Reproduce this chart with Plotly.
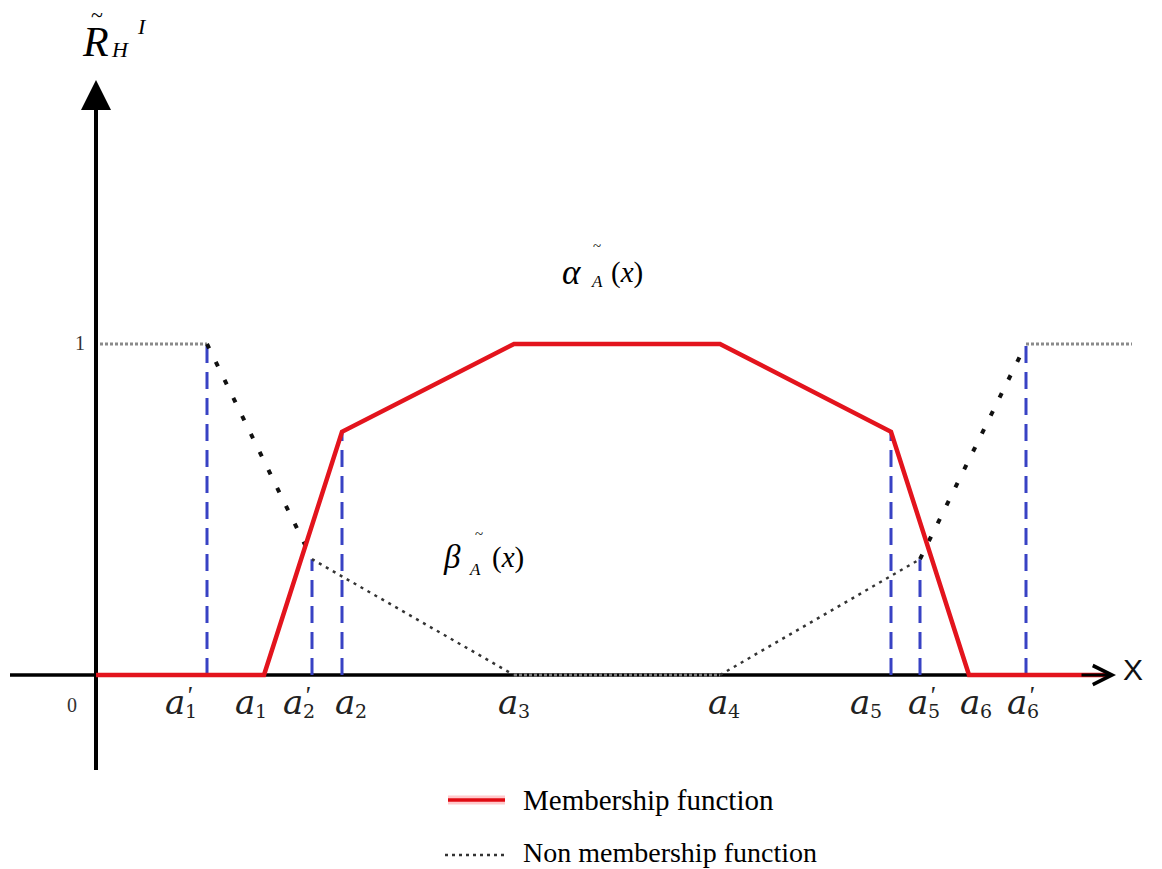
import plotly.graph_objects as go

W, H = 1162, 869

# ---------------- data (abstract units) ----------------
# membership function alpha_A(x): break points
mem_x = [0.0, 16.8, 24.6, 41.8, 62.4, 79.5, 87.3, 101.4]
mem_y = [0.0, 0.0, 0.735, 1.0, 1.0, 0.735, 0.0, 0.0]
# non-membership function beta_A(x): break points
non_x = [0.4, 11.1, 21.6, 41.8, 62.4, 82.4, 93.0, 103.6]
non_y = [1.0, 1.0, 0.35, 0.0, 0.0, 0.35, 1.0, 1.0]

# point labels on the x axis
label_names = ["a1'", "a1", "a2'", "a2", "a3", "a4", "a5", "a5'", "a6", "a6'"]
label_x = [11.1, 16.8, 21.6, 24.6, 41.8, 62.4, 79.5, 82.4, 87.3, 93.0]
label_sub = ["1", "1", "2", "2", "3", "4", "5", "5", "6", "6"]
label_prime = [True, False, True, False, False, False, False, True, False, True]

y_ticks = [0, 1]
legend_names = ["Membership function", "Non membership function"]

# ---------------- scale (pixel placement of the drawing) ----------------
X0_PX, PX_PER_X = 96, 10.0
Y0_PX, PX_PER_Y = 675, 331.0
x_range = [(0 - X0_PX) / PX_PER_X, (W - X0_PX) / PX_PER_X]
y_range = [(Y0_PX - H) / PX_PER_Y, Y0_PX / PX_PER_Y]


def P(xp, yp):
    """pixel -> paper coordinates"""
    return xp / W, 1 - yp / H


RED = "#e3141d"
BLUE = "#3842c4"
SERIF = "Liberation Serif"
MATH = "DejaVu Serif"

fig = go.Figure()

# blue dashed drop lines
drop_pts = [
    (non_x[1], non_y[1]), (non_x[2], non_y[2]), (mem_x[2], mem_y[2]),
    (mem_x[5], mem_y[5]), (non_x[5], non_y[5]), (non_x[6], non_y[6]),
]
dx, dy = [], []
for xv, yv in drop_pts:
    dx += [xv, xv, None]
    dy += [0, yv, None]
fig.add_trace(go.Scatter(x=dx, y=dy, mode="lines", showlegend=False, hoverinfo="skip",
                         line=dict(color=BLUE, width=3, dash="17px,9px")))

# non-membership: segments with different dot styles
seg_styles = [
    dict(color="#8a8a8a", width=3, dash="3px,2px"),   # flat top left
    dict(color="#111111", width=4, dash="5px,15px"),  # steep left
    dict(color="#333333", width=2.5, dash="3px,5px"),  # shallow left
    dict(color="#7a7a7a", width=3, dash="3px,2px"),   # baseline
    dict(color="#333333", width=2.5, dash="3px,5px"),  # shallow right
    dict(color="#111111", width=4, dash="5px,15px"),  # steep right
    dict(color="#8a8a8a", width=3, dash="3px,2px"),   # flat top right
]
for i, st in enumerate(seg_styles):
    fig.add_trace(go.Scatter(x=non_x[i:i + 2], y=non_y[i:i + 2], mode="lines",
                             showlegend=False, hoverinfo="skip", line=st))

# membership function
fig.add_trace(go.Scatter(x=mem_x, y=mem_y, mode="lines", showlegend=False,
                         hoverinfo="skip", line=dict(color=RED, width=4.5)))

shapes = [
    # x axis
    dict(type="line", xref="x", yref="y", x0=(10 - X0_PX) / PX_PER_X, x1=(1112 - X0_PX) / PX_PER_X,
         y0=0, y1=0, line=dict(color="black", width=3.5), layer="below"),
    # y axis
    dict(type="line", xref="x", yref="y", x0=0, x1=0, y0=(Y0_PX - 770) / PX_PER_Y,
         y1=(Y0_PX - 85) / PX_PER_Y, line=dict(color="black", width=4), layer="below"),
]
# legend samples
lx0, ly0 = P(448, 800)
lx1, _ = P(505, 800)
shapes.append(dict(type="line", xref="paper", yref="paper", x0=lx0, x1=lx1, y0=ly0, y1=ly0,
                   line=dict(color="#ffc9cc", width=9)))
shapes.append(dict(type="line", xref="paper", yref="paper", x0=lx0, x1=lx1, y0=ly0, y1=ly0,
                   line=dict(color="#e00a12", width=3.5)))
nx0, ny0 = P(445, 855)
nx1, _ = P(508, 855)
shapes.append(dict(type="line", xref="paper", yref="paper", x0=nx0, x1=nx1, y0=ny0, y1=ny0,
                   line=dict(color="#333333", width=2.5, dash="3px,4px")))

annotations = []
# axis arrows
annotations.append(dict(x=(1116 - X0_PX) / PX_PER_X, y=0, ax=(1080 - X0_PX) / PX_PER_X, ay=0,
                        xref="x", yref="y", axref="x", ayref="y", text="", showarrow=True,
                        arrowhead=5, arrowsize=1.25, arrowwidth=3, arrowcolor="black"))
annotations.append(dict(x=0, y=(Y0_PX - 80) / PX_PER_Y, ax=0, ay=(Y0_PX - 120) / PX_PER_Y,
                        xref="x", yref="y", axref="x", ayref="y", text="", showarrow=True,
                        arrowhead=2, arrowsize=1.5, arrowwidth=4, arrowcolor="black"))

# x-axis point labels
label_shift = [-42, -29, -29, -7, -16, -12, -41, -12, -9, -19]
for name, xv, sub, pr, sh in zip(label_names, label_x, label_sub, label_prime, label_shift):
    annotations.append(dict(x=xv, y=0, xref="x", yref="y", xanchor="left", yanchor="middle",
                            xshift=sh - 2, yshift=-27, showarrow=False,
                            text="<i>a</i>", font=dict(family=MATH, size=34, color="#222")))
    annotations.append(dict(x=xv, y=0, xref="x", yref="y", xanchor="left", yanchor="middle",
                            xshift=sh + 18, yshift=-36, showarrow=False,
                            text=sub, font=dict(family=MATH, size=19, color="#222")))
    if pr:
        annotations.append(dict(x=xv, y=0, xref="x", yref="y", xanchor="left", yanchor="middle",
                                xshift=sh + 19, yshift=-20, showarrow=False,
                                text="<i>'</i>", font=dict(family=SERIF, size=26, color="#222")))

# tick labels 0 and 1
annotations.append(dict(x=0, y=y_ticks[0], xref="x", yref="y", xshift=-24, yshift=-30,
                        showarrow=False, text=str(y_ticks[0]),
                        font=dict(family=SERIF, size=20, color="#333")))
annotations.append(dict(x=0, y=y_ticks[1], xref="x", yref="y", xshift=-16, yshift=1,
                        showarrow=False, text=str(y_ticks[1]),
                        font=dict(family=SERIF, size=20, color="#333")))

# x axis name
xx, xy = P(1145, 688)
annotations.append(dict(x=xx, y=xy, xref="paper", yref="paper", showarrow=False, text="X",
                        font=dict(family="Liberation Sans", size=30, color="#111")))


def txt(xp, yp, text, size, family=SERIF, anchor="center"):
    px_, py_ = P(xp, yp)
    annotations.append(dict(x=px_, y=py_, xref="paper", yref="paper", showarrow=False,
                            xanchor=anchor, yanchor="middle", text=text,
                            font=dict(family=family, size=size, color="black")))


# y-axis title  R~_H^I
txt(95, 42, "<i>R</i>", 42)
txt(97, 14, "~", 22)
txt(120, 49, "<i>H</i>", 22)
txt(142, 26, "<i>I</i>", 22)

# alpha_A(x)
txt(571, 272, "<i>α</i>", 35)
txt(597, 246, "~", 15)
txt(597, 281, "<i>A</i>", 17)
txt(627, 272, "(<i>x</i>)", 29)

# beta_A(x)
txt(452, 557, "<i>β</i>", 33)
txt(479, 534, "~", 15)
txt(475, 569, "<i>A</i>", 17)
txt(508, 557, "(<i>x</i>)", 29)

# legend texts
txt(521, 800, legend_names[0], 29, anchor="left")
txt(521, 852, legend_names[1], 28, anchor="left")

fig.update_layout(
    width=W, height=H,
    margin=dict(l=0, r=0, t=0, b=0),
    paper_bgcolor="white", plot_bgcolor="white",
    xaxis=dict(range=x_range, visible=False, fixedrange=True),
    yaxis=dict(range=y_range, visible=False, fixedrange=True),
    shapes=shapes,
    annotations=annotations,
    showlegend=False,
)

fig.write_html("out.html", config={"displayModeBar": False},
               post_script="document.body.style.margin='0';document.body.style.overflow='hidden';")
